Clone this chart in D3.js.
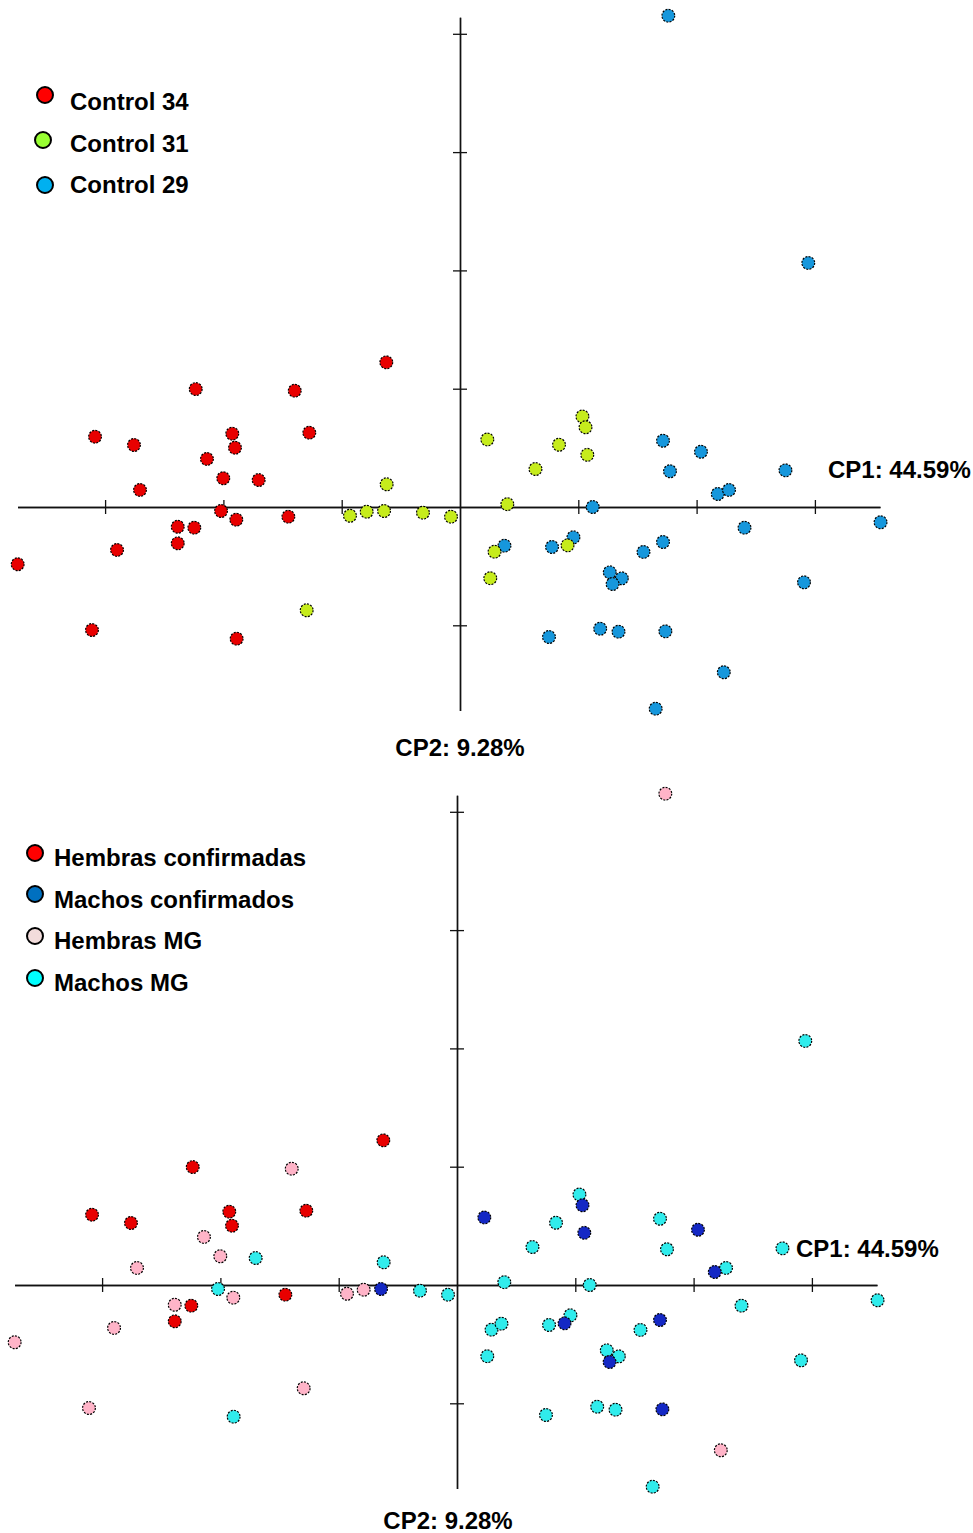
<!DOCTYPE html>
<html>
<head>
<meta charset="utf-8">
<script src="https://cdn.jsdelivr.net/npm/d3@7/dist/d3.min.js"></script>
<style>
  html, body { margin: 0; padding: 0; background: #fff; }
  svg { display: block; }
  text { font-family: "Liberation Sans", Arial, Helvetica, sans-serif; font-weight: bold; font-size: 24px; fill: #000; }
</style>
</head>
<body>
<script>
// PCA scores (CP1, CP2) for each sample, in axis-tick units
const pc1 = [
  -0.623, -2.234, -1.397, -3.085, -2.756, -1.925, -1.274, -1.902, -2.139, -2.001,
  -1.702, -2.705, -2.020, -1.891, -1.451, -2.386, -2.246, -2.386, -2.899, -3.739,
  -3.111, -1.888,
  -0.620, -0.930, -0.789, -0.642, -0.313, -0.076, -1.296, 1.035, 1.061, 0.231,
  0.837, 1.076, 0.638, 0.400, 0.292, 0.909, 0.256,
  1.716, 2.037, 1.775, 2.751, 2.179, 2.274, 1.122, 3.555, 2.405, 0.376,
  0.778, 0.959, 1.716, 1.551, 1.266, 1.368, 1.290, 2.908, 1.185, 1.340,
  1.736, 0.752, 2.230, 1.654, 1.761, 2.944
];
const pc2 = [
  1.223, 0.997, 0.983, 0.594, 0.524, 0.620, 0.628, 0.501, 0.406, 0.243,
  0.228, 0.144, -0.034, -0.107, -0.082, -0.167, -0.175, -0.307, -0.363, -0.484,
  -1.040, -1.113,
  0.192, -0.074, -0.040, -0.034, -0.048, -0.082, -0.873, 0.765, 0.674, 0.571,
  0.526, 0.441, 0.321, 0.024, -0.378, -0.324, -0.602,
  0.560, 0.467, 0.302, 0.310, 0.110, 0.144, 0.000, -0.129, -0.175, -0.327,
  -0.338, -0.256, -0.296, -0.380, -0.552, -0.603, -0.651, -0.637, -1.029, -1.054,
  -1.051, -1.099, -1.397, -1.705, 4.153, 2.063
];

// Control group of each sample (index into controlNames)
const controlNames = ["Control 34", "Control 31", "Control 29"];
const controlGroup = [
  0,0,0,0,0,0,0,0,0,0,0,0,0,0,0,0,0,0,0,0,0,0,
  1,1,1,1,1,1,1,1,1,1,1,1,1,1,1,1,1,
  2,2,2,2,2,2,2,2,2,2,2,2,2,2,2,2,2,2,2,2,2,2,2,2,2,2
];

// Sex class of each sample (index into sexNames)
const sexNames = ["Hembras confirmadas", "Machos confirmados", "Hembras MG", "Machos MG"];
const sexGroup = [
  0,0,2,0,0,0,0,0,2,2,3,2,3,2,0,2,0,0,2,2,2,3,
  3,2,2,1,3,3,2,3,1,1,3,1,3,3,3,1,3,
  3,1,3,3,1,3,3,3,3,3,3,3,1,3,3,3,1,3,3,3,1,3,2,3,2,3
];

// Axis ticks and extent (tick units)
const xTicks = [-3, -2, -1, 1, 2, 3];
const yTicks = [-1, 1, 2, 3, 4];
const xExtent = [-3.74, 3.55];
const yExtent = [-1.72, 4.14];
const cp1Label = "CP1: 44.59%";
const cp2Label = "CP2: 9.28%";

// Colours
const controlFill = ["#e80000", "#c6ec1c", "#1697dc"];
const controlKey  = ["#ff0000", "#99ff33", "#00b0f0"];
const sexFill = ["#e80000", "#1428c4", "#ffb4c8", "#30ecec"];
const sexKey  = ["#ff0000", "#0070c0", "#f2dcdb", "#00ffff"];

const W = 973, H = 1533;
const unit = 118.3;

const svg = d3.select("body").append("svg")
  .attr("width", W).attr("height", H)
  .attr("viewBox", `0 0 ${W} ${H}`);

const samples = pc1.map((v, i) => ({ x: v, y: pc2[i], c: controlGroup[i], s: sexGroup[i] }));

function panel(cfg) {
  const g = svg.append("g");
  const x = d3.scaleLinear().domain(xExtent)
    .range([cfg.ox + xExtent[0] * unit, cfg.ox + xExtent[1] * unit]);
  const y = d3.scaleLinear().domain(yExtent)
    .range([cfg.oy - yExtent[0] * unit, cfg.oy - yExtent[1] * unit]);

  const styleAxis = sel => {
    sel.selectAll("path.domain").attr("stroke", "#111").attr("stroke-width", 1.4);
    sel.selectAll(".tick line").attr("stroke", "#111").attr("stroke-width", 1.3);
    sel.selectAll(".tick text").remove();
  };
  const xb = d3.axisBottom(x).tickValues(xTicks).tickSizeInner(7).tickSizeOuter(0).tickFormat("");
  const xt = d3.axisTop(x).tickValues(xTicks).tickSizeInner(7).tickSizeOuter(0).tickFormat("");
  const yl = d3.axisLeft(y).tickValues(yTicks).tickSizeInner(7).tickSizeOuter(0).tickFormat("");
  const yr = d3.axisRight(y).tickValues(yTicks).tickSizeInner(7).tickSizeOuter(0).tickFormat("");
  g.append("g").attr("transform", `translate(0,${y(0)})`).call(xb).call(styleAxis);
  g.append("g").attr("transform", `translate(0,${y(0)})`).call(xt).call(styleAxis);
  g.append("g").attr("transform", `translate(${x(0)},0)`).call(yl).call(styleAxis);
  g.append("g").attr("transform", `translate(${x(0)},0)`).call(yr).call(styleAxis);

  // sample markers with a dotted dark rim
  const ordered = samples.slice().sort((a, b) => cfg.order.indexOf(cfg.key(a)) - cfg.order.indexOf(cfg.key(b)));
  g.append("g").selectAll("circle").data(ordered).join("circle")
    .attr("cx", d => x(d.x)).attr("cy", d => y(d.y)).attr("r", 6.4)
    .attr("fill", d => cfg.fill[cfg.key(d)])
    .attr("stroke", "#000").attr("stroke-width", 1.2)
    .attr("stroke-dasharray", "2,1.3");

  // axis titles
  g.append("text").attr("x", cfg.cp1.x).attr("y", cfg.cp1.y).text(cp1Label);
  g.append("text").attr("x", cfg.cp2.x).attr("y", cfg.cp2.y)
    .attr("text-anchor", "middle").text(cp2Label);

  // legend
  const lg = g.append("g");
  cfg.names.forEach((name, i) => {
    lg.append("circle").attr("cx", cfg.legend.cx[i]).attr("cy", cfg.legend.cy[i]).attr("r", 8)
      .attr("fill", cfg.keyFill[i]).attr("stroke", "#000").attr("stroke-width", 2);
    lg.append("text").attr("x", cfg.legend.tx).attr("y", cfg.legend.ty[i]).text(name);
  });
}

panel({
  ox: 460, oy: 507,
  key: d => d.c,
  order: [0, 2, 1],
  fill: controlFill,
  keyFill: controlKey,
  names: controlNames,
  cp1: { x: 828, y: 478 },
  cp2: { x: 460, y: 756 },
  legend: { cx: [45, 43, 45], cy: [95, 140, 185], tx: 70, ty: [110, 152, 193] }
});

panel({
  ox: 457, oy: 1285,
  key: d => d.s,
  order: [2, 3, 0, 1],
  fill: sexFill,
  keyFill: sexKey,
  names: sexNames,
  cp1: { x: 796, y: 1257 },
  cp2: { x: 448, y: 1529 },
  legend: { cx: [35, 35, 35, 35], cy: [853, 894, 936, 978], tx: 54, ty: [866, 908, 949, 991] }
});
</script>
</body>
</html>
